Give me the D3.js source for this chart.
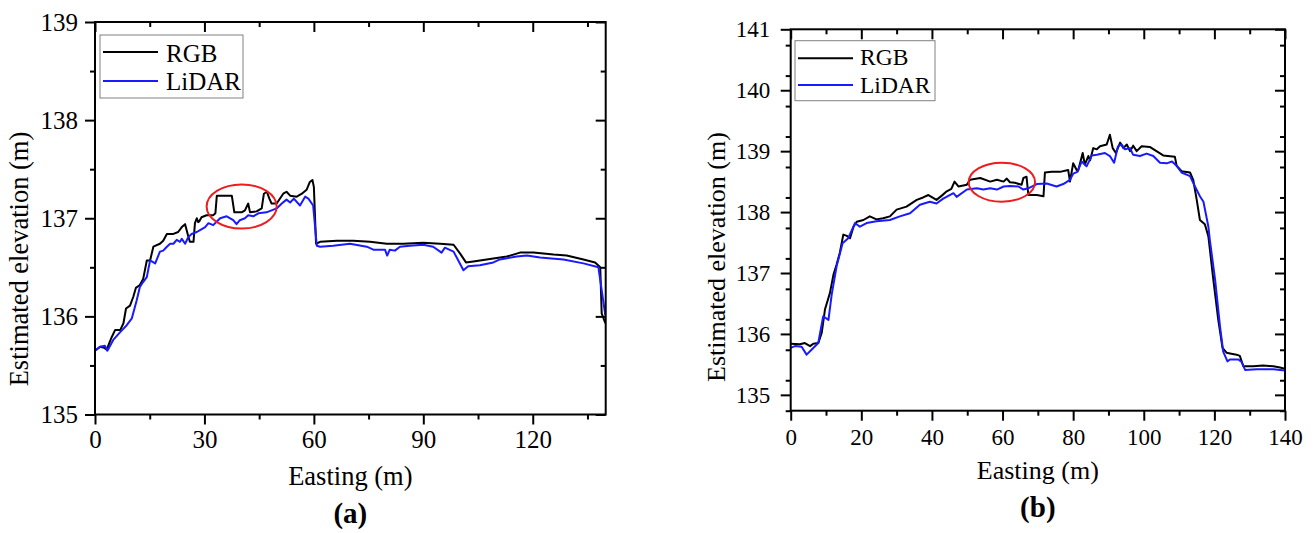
<!DOCTYPE html>
<html>
<head>
<meta charset="utf-8">
<script src="https://cdn.jsdelivr.net/npm/d3@7"></script>
<style>
  html, body { margin: 0; background: #fff; }
  svg text { font-family: "Liberation Serif", "Times New Roman", serif; fill: #000; }
</style>
</head>
<body>
<svg id="fig" width="1315" height="533"></svg>
<script>
// Elevation profiles: [easting (m), elevation (m)]
const rgbA = [[0,135.65],[1.4,135.69],[2.5,135.68],[3.2,135.66],[4.6,135.79],[5.5,135.86],[6.9,135.86],[7.8,135.93],[8.5,136.08],[9.6,136.11],[10.5,136.20],[11.2,136.29],[12.3,136.32],[13.2,136.38],[14.2,136.57],[15.1,136.57],[16.0,136.71],[17.8,136.74],[18.7,136.77],[19.7,136.84],[21.5,136.84],[22.8,136.86],[23.8,136.91],[24.7,136.94],[25.4,136.84],[26.0,136.76],[27.0,136.76],[27.4,136.95],[27.9,137.0],[28.3,136.96],[28.6,136.97],[29.2,137.01],[30.6,137.03],[32.4,137.03],[33.0,137.05],[33.4,137.23],[37.5,137.23],[38.2,137.06],[40.2,137.06],[41.1,137.08],[42.0,137.15],[42.5,137.06],[44.3,137.07],[45.7,137.1],[46.3,137.25],[47.1,137.27],[47.8,137.2],[48.4,137.15],[49.8,137.15],[51.6,137.25],[52.5,137.27],[53.5,137.23],[55.3,137.22],[56.7,137.25],[58.0,137.29],[58.9,137.37],[59.6,137.39],[60.0,137.32],[60.6,136.74],[61.7,136.76],[66.3,136.77],[70.8,136.77],[75.4,136.76],[80.0,136.74],[84.5,136.74],[90.0,136.75],[94.6,136.74],[98.3,136.73],[100.1,136.64],[101.7,136.55],[103.7,136.56],[109.2,136.59],[112.9,136.61],[116.5,136.65],[120.2,136.65],[125.7,136.63],[129.3,136.62],[133.9,136.58],[137.1,136.55],[138.5,136.50],[138.9,136.03],[139.9,135.93]];
const lidarA = [[0,135.65],[1.4,135.69],[2.7,135.70],[3.4,135.65],[5.0,135.76],[6.9,135.84],[8.7,135.91],[10.1,135.98],[11.4,136.16],[12.3,136.30],[13.2,136.35],[14.2,136.40],[15.1,136.57],[16.5,136.54],[17.8,136.66],[18.7,136.67],[19.7,136.71],[20.6,136.74],[21.5,136.74],[22.4,136.78],[23.3,136.76],[23.8,136.79],[24.7,136.74],[25.6,136.81],[26.5,136.84],[27.9,136.86],[28.8,136.88],[30.2,136.91],[31.1,136.95],[32.4,136.93],[34.3,137.0],[36.1,137.02],[37.9,136.98],[38.8,136.94],[39.7,136.98],[41.1,137.0],[42.0,137.03],[43.4,137.02],[44.8,137.05],[47.0,137.06],[48.4,137.08],[49.8,137.10],[51.2,137.15],[52.5,137.19],[53.5,137.16],[54.5,137.2],[56.2,137.13],[57.6,137.22],[58.5,137.20],[59.8,137.13],[60.8,136.72],[61.7,136.71],[65.3,136.72],[69.9,136.74],[74.5,136.71],[76.3,136.68],[79.5,136.68],[80.1,136.62],[80.8,136.68],[82.2,136.67],[83.6,136.71],[86.3,136.72],[90.0,136.73],[92.7,136.71],[95.0,136.65],[95.9,136.70],[98.3,136.66],[101.0,136.47],[102.3,136.51],[105.5,136.52],[109.2,136.55],[111.0,136.58],[115.6,136.61],[118.4,136.62],[122.0,136.60],[128.4,136.58],[133.9,136.54],[138.0,136.50],[139.9,136.01]];
const rgbB = [[0,135.84],[2.6,135.83],[4.0,135.85],[5.5,135.80],[6.4,135.84],[7.8,135.85],[8.8,136.02],[9.7,136.40],[11.1,136.67],[12.1,136.97],[13.0,137.14],[13.9,137.33],[14.9,137.63],[15.9,137.61],[16.8,137.57],[17.8,137.76],[18.7,137.84],[20.6,137.87],[22.4,137.93],[24.3,137.88],[26.2,137.90],[28.1,137.93],[30.0,138.04],[32.8,138.09],[35.7,138.20],[37.5,138.24],[39.0,138.28],[41.3,138.20],[42.8,138.27],[44.2,138.34],[45.5,138.38],[46.4,138.50],[47.5,138.42],[49.9,138.45],[50.8,138.53],[53.7,138.56],[56.5,138.50],[58.4,138.53],[60.3,138.50],[61.2,138.55],[62.1,138.49],[63.5,138.48],[65.4,138.45],[65.9,138.56],[66.8,138.58],[67.3,138.28],[69.7,138.28],[71.6,138.26],[72.0,138.65],[73.9,138.66],[76.3,138.66],[78.6,138.69],[79.1,138.50],[80.0,138.80],[81.0,138.69],[81.4,138.68],[82.7,138.97],[83.3,138.78],[84.3,138.92],[84.8,138.85],[85.7,139.05],[86.7,139.03],[87.6,139.08],[89.5,139.11],[90.4,139.27],[91.2,139.05],[92.1,138.97],[93.3,139.14],[94.2,139.05],[95.2,139.11],[96.1,139.0],[97.0,139.09],[98.0,139.0],[99.4,139.08],[101.7,139.07],[103.6,139.0],[105.5,138.93],[108.8,138.91],[109.3,138.76],[110.7,138.67],[113.1,138.65],[114.0,138.53],[115.0,138.20],[115.9,137.87],[117.3,137.80],[118.3,137.60],[119.7,136.89],[121.1,136.23],[122.3,135.77],[123.5,135.69],[124.4,135.68],[126.3,135.66],[127.2,135.64],[128.2,135.47],[131.0,135.47],[133.8,135.48],[136.7,135.47],[138.6,135.45],[140,135.43]];
const lidarB = [[0,135.77],[1.2,135.80],[3.1,135.79],[4.5,135.66],[5.9,135.74],[7.8,135.85],[9.2,136.29],[10.7,136.23],[11.6,136.64],[13.0,137.11],[14.7,137.49],[16.3,137.57],[18.2,137.82],[19.6,137.76],[21.5,137.82],[24.3,137.85],[28.1,137.87],[30.9,137.93],[33.8,137.98],[36.6,138.12],[39.4,138.17],[41.3,138.14],[43.2,138.22],[46.1,138.31],[47.0,138.25],[49.9,138.37],[52.7,138.39],[54.6,138.37],[56.5,138.39],[58.4,138.37],[60.3,138.42],[62.1,138.43],[64.5,138.42],[65.9,138.37],[67.3,138.39],[69.7,138.46],[72.5,138.47],[75.3,138.42],[77.2,138.46],[79.1,138.53],[80.0,138.63],[81.2,138.66],[82.4,138.83],[83.8,138.75],[85.3,138.93],[86.7,138.94],[89.0,138.97],[90.4,138.92],[91.6,138.81],[92.7,139.08],[93.7,139.11],[94.7,139.03],[96.1,139.05],[97.0,138.94],[98.9,138.92],[100.8,138.96],[102.7,138.92],[104.6,138.81],[106.5,138.80],[108.0,138.83],[109.3,138.76],[110.7,138.65],[113.1,138.59],[114.5,138.42],[115.9,138.26],[116.9,138.17],[118.3,137.76],[118.7,137.55],[120.2,136.89],[121.6,136.12],[122.5,135.71],[123.7,135.55],[124.4,135.58],[126.8,135.58],[127.7,135.54],[128.7,135.41],[132.0,135.42],[136.7,135.42],[140,135.40]];

// Axis ticks
const xTicksA = [0, 30, 60, 90, 120];
const yTicksA = [135, 136, 137, 138, 139];
const xTicksB = [0, 20, 40, 60, 80, 100, 120, 140];
const yTicksB = [135, 136, 137, 138, 139, 140, 141];

// Texts
const seriesNames = ["RGB", "LiDAR"];
const panelTags = ["(a)", "(b)"];
const xTitle = "Easting (m)";
const yTitle = "Estimated elevation (m)";

// Highlighted zones: centre (easting, elevation) and half-axes in data units
const zoneA = [40.2, 137.12, 9.6, 0.225];
const zoneB = [59.8, 138.49, 9.4, 0.32];

const seriesColors = ["#000000", "#1a1aff"];
const SERIF = '"Liberation Serif", "Times New Roman", serif';

const panels = [
  { tag: panelTags[0], rgb: rgbA, lidar: lidarA, zone: zoneA,
    xDomain: [0, 140], yDomain: [135, 139], xTicks: xTicksA, yTicks: yTicksA, xStep: 30, yStep: 1,
    box: { l: 95, r: 605.7, t: 22, b: 414.5 },
    tickFont: 25, yPad: 7, xLabelY: 33,
    legend: { x: 100, y: 35, w: 143, h: 63, fs: 25, line0: 103, line1: 158, tx: 166, rows: [52, 81], base: [61.5, 90] },
    yTitle: { x: 28, y: 259 }, xTitleY: 485, tagY: 523, titleFont: 26.5, tagFont: 29 },
  { tag: panelTags[1], rgb: rgbB, lidar: lidarB, zone: zoneB,
    xDomain: [0, 140], yDomain: [134.74, 141], xTicks: xTicksB, yTicks: yTicksB, xStep: 20, yStep: 1,
    box: { l: 790.7, r: 1285, t: 29.3, b: 410.7 },
    tickFont: 23, yPad: 10.5, xLabelY: 34,
    legend: { x: 795, y: 40.7, w: 140, h: 60, fs: 23.5, line0: 798, line1: 853, tx: 860, rows: [58.3, 85], base: [65, 92.5] },
    yTitle: { x: 725, y: 257 }, xTitleY: 479, tagY: 517, titleFont: 26, tagFont: 29 }
];

const svg = d3.select("#fig");

function minorTicks(major, step, domain) {
  return d3.range(domain[0] - step, domain[1] + step, step / 2)
    .map(v => +v.toFixed(6))
    .filter(v => v >= domain[0] - 1e-9 && v <= domain[1] + 1e-9)
    .filter(v => !major.some(m => Math.abs(m - v) < 1e-6));
}

function styleAxis(g) {
  g.attr("font-family", null).attr("font-size", null);
  g.select(".domain").remove();
  g.selectAll(".tick line").attr("stroke", "#000").attr("stroke-width", 2);
}

panels.forEach((p, i) => {
  const B = p.box;
  const x = d3.scaleLinear().domain(p.xDomain).range([B.l, B.r]);
  const y = d3.scaleLinear().domain(p.yDomain).range([B.b, B.t]);
  const g = svg.append("g");

  const xMinor = minorTicks(p.xTicks, p.xStep, p.xDomain);
  const yMinor = minorTicks(p.yTicks, p.yStep, p.yDomain);

  // Bottom axis (outward ticks, labelled)
  const bottom = g.append("g").attr("transform", `translate(0,${B.b})`)
    .call(d3.axisBottom(x).tickValues(p.xTicks).tickSize(10).tickFormat(d3.format("d")));
  styleAxis(bottom);
  bottom.selectAll("text").attr("y", p.xLabelY).attr("dy", null)
    .style("font-size", p.tickFont + "px").style("font-family", SERIF);
  g.append("g").attr("transform", `translate(0,${B.b})`)
    .call(d3.axisBottom(x).tickValues(xMinor).tickSize(5).tickFormat(""))
    .call(styleAxis);

  // Top mirror (inward ticks)
  g.append("g").attr("transform", `translate(0,${B.t})`)
    .call(d3.axisTop(x).tickValues(p.xTicks).tickSize(-10).tickFormat(""))
    .call(styleAxis);
  g.append("g").attr("transform", `translate(0,${B.t})`)
    .call(d3.axisTop(x).tickValues(xMinor).tickSize(-5).tickFormat(""))
    .call(styleAxis);

  // Left axis (outward ticks, labelled)
  const left = g.append("g").attr("transform", `translate(${B.l},0)`)
    .call(d3.axisLeft(y).tickValues(p.yTicks).tickSize(10).tickPadding(p.yPad).tickFormat(d3.format("d")));
  styleAxis(left);
  left.selectAll("text").style("font-size", p.tickFont + "px").style("font-family", SERIF);
  g.append("g").attr("transform", `translate(${B.l},0)`)
    .call(d3.axisLeft(y).tickValues(yMinor).tickSize(5).tickFormat(""))
    .call(styleAxis);

  // Right mirror (inward ticks)
  g.append("g").attr("transform", `translate(${B.r},0)`)
    .call(d3.axisRight(y).tickValues(p.yTicks).tickSize(-10).tickFormat(""))
    .call(styleAxis);
  g.append("g").attr("transform", `translate(${B.r},0)`)
    .call(d3.axisRight(y).tickValues(yMinor).tickSize(-5).tickFormat(""))
    .call(styleAxis);

  // Clip region for the profiles
  const clipId = "clip" + i;
  svg.append("clipPath").attr("id", clipId).append("rect")
    .attr("x", B.l).attr("y", B.t).attr("width", B.r - B.l).attr("height", B.b - B.t);

  const line = d3.line().x(d => x(d[0])).y(d => y(d[1])).curve(d3.curveLinear);
  const plot = g.append("g").attr("clip-path", `url(#${clipId})`);
  [p.rgb, p.lidar].forEach((s, k) => {
    plot.append("path").datum(s).attr("d", line)
      .attr("fill", "none").attr("stroke", seriesColors[k])
      .attr("stroke-width", 2).attr("stroke-linejoin", "round");
  });

  // Highlight ellipse
  const [zx, zy, zrx, zry] = p.zone;
  g.append("ellipse")
    .attr("cx", x(zx)).attr("cy", y(zy))
    .attr("rx", x(zx + zrx) - x(zx)).attr("ry", y(zy) - y(zy + zry))
    .attr("fill", "none").attr("stroke", "#ee1c1c").attr("stroke-width", 2);

  // Frame
  g.append("rect").attr("x", B.l).attr("y", B.t)
    .attr("width", B.r - B.l).attr("height", B.b - B.t)
    .attr("fill", "none").attr("stroke", "#000").attr("stroke-width", 2);

  // Legend
  const L = p.legend;
  const lg = g.append("g");
  lg.append("rect").attr("x", L.x).attr("y", L.y).attr("width", L.w).attr("height", L.h)
    .attr("fill", "#fff").attr("stroke", "#808080").attr("stroke-width", 1);
  seriesNames.forEach((name, k) => {
    lg.append("line").attr("x1", L.line0).attr("x2", L.line1)
      .attr("y1", L.rows[k]).attr("y2", L.rows[k])
      .attr("stroke", seriesColors[k]).attr("stroke-width", 2);
    lg.append("text").attr("x", L.tx).attr("y", L.base[k])
      .style("font-size", L.fs + "px").text(name);
  });

  // Titles
  const cx = (B.l + B.r) / 2;
  g.append("text").attr("x", cx).attr("y", p.xTitleY).attr("text-anchor", "middle")
    .style("font-size", p.titleFont + "px").text(xTitle);
  g.append("text")
    .attr("transform", `translate(${p.yTitle.x},${p.yTitle.y}) rotate(-90)`)
    .attr("text-anchor", "middle").style("font-size", p.titleFont + "px").text(yTitle);
  g.append("text").attr("x", cx).attr("y", p.tagY).attr("text-anchor", "middle")
    .style("font-size", p.tagFont + "px").style("font-weight", "bold").text(p.tag);
});
</script>
</body>
</html>
